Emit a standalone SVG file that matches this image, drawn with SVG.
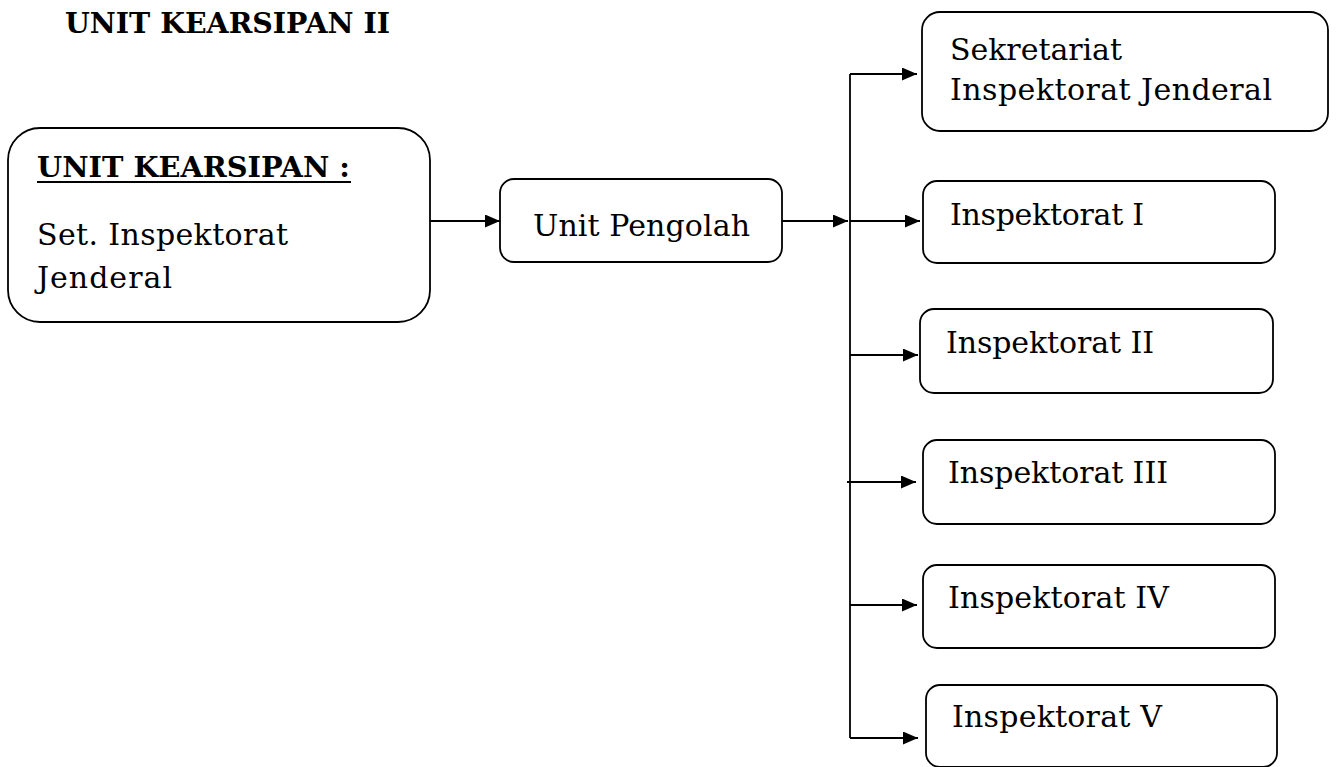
<svg xmlns="http://www.w3.org/2000/svg" width="1339" height="767" viewBox="0 0 1339 767">
<style>
.box{fill:#fff;stroke:#000;stroke-width:1.8}
.t{font-family:"DejaVu Serif","Liberation Serif",serif;font-size:30px;fill:#000}
.b{font-family:"DejaVu Serif","Liberation Serif",serif;font-size:28px;font-weight:bold;fill:#000}
.ln{fill:none;stroke:#000;stroke-width:1.8}
</style>
<defs>
<marker id="ah" viewBox="0 0 15 13" refX="15" refY="6.5" markerWidth="15" markerHeight="13" markerUnits="userSpaceOnUse" orient="auto">
<path d="M0,0 L15,6.5 L0,13 Z" fill="#000"/>
</marker>
</defs>
<rect width="1339" height="767" fill="#fff"/>
<text class="b" x="65" y="33" textLength="325" lengthAdjust="spacingAndGlyphs">UNIT KEARSIPAN II</text>
<g id="connectors">
<line class="ln" x1="430" y1="221" x2="500" y2="221" marker-end="url(#ah)"/>
<line class="ln" x1="782" y1="221" x2="848" y2="221" marker-end="url(#ah)"/>
<line class="ln" x1="850" y1="74" x2="850" y2="738"/>
<line class="ln" x1="850" y1="74" x2="917" y2="74" marker-end="url(#ah)"/>
<line class="ln" x1="850" y1="221" x2="920" y2="221" marker-end="url(#ah)"/>
<line class="ln" x1="850" y1="355" x2="918" y2="355" marker-end="url(#ah)"/>
<line class="ln" x1="847" y1="482" x2="916" y2="482" marker-end="url(#ah)"/>
<line class="ln" x1="850" y1="605" x2="917" y2="605" marker-end="url(#ah)"/>
<line class="ln" x1="850" y1="738" x2="918" y2="738" marker-end="url(#ah)"/>
</g>
<g id="unit-kearsipan">
<rect class="box" x="8" y="128" width="422" height="194" rx="32" ry="32"/>
<text class="b" x="37" y="177" textLength="313" lengthAdjust="spacingAndGlyphs">UNIT KEARSIPAN :</text>
<line x1="37" y1="182" x2="351" y2="182" stroke="#000" stroke-width="2"/>
<text class="t" x="37" y="245" textLength="251">Set. Inspektorat</text>
<text class="t" x="37" y="288" textLength="135">Jenderal</text>
</g>
<g id="unit-pengolah">
<rect class="box" x="500" y="179" width="282" height="83" rx="14" ry="14"/>
<text class="t" x="533" y="236" textLength="217">Unit Pengolah</text>
</g>
<g id="sekretariat">
<rect class="box" x="922" y="12" width="406" height="119" rx="18" ry="18"/>
<text class="t" x="950" y="60" textLength="172">Sekretariat</text>
<text class="t" x="950" y="100" textLength="322">Inspektorat Jenderal</text>
</g>
<g id="inspektorat-1">
<rect class="box" x="923" y="181" width="352" height="82" rx="14" ry="14"/>
<text class="t" x="950" y="225" textLength="194">Inspektorat I</text>
</g>
<g id="inspektorat-2">
<rect class="box" x="920" y="309" width="353" height="84" rx="14" ry="14"/>
<text class="t" x="946" y="353" textLength="208">Inspektorat II</text>
</g>
<g id="inspektorat-3">
<rect class="box" x="923" y="440" width="352" height="84" rx="14" ry="14"/>
<text class="t" x="948" y="483" textLength="220">Inspektorat III</text>
</g>
<g id="inspektorat-4">
<rect class="box" x="923" y="565" width="352" height="83" rx="14" ry="14"/>
<text class="t" x="948" y="608" textLength="221">Inspektorat IV</text>
</g>
<g id="inspektorat-5">
<rect class="box" x="926" y="685" width="351" height="82" rx="14" ry="14"/>
<text class="t" x="952" y="727" textLength="210">Inspektorat V</text>
</g>
</svg>
